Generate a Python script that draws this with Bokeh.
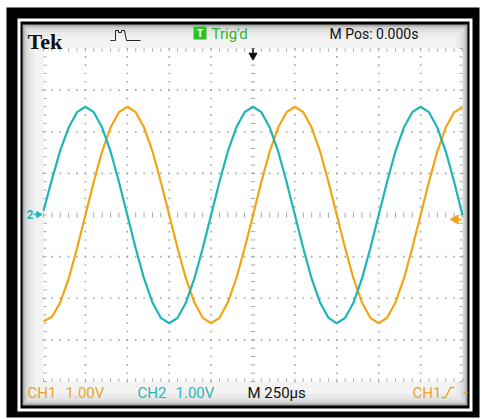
import numpy as np
from bokeh.plotting import figure
from bokeh.models import Range1d, Label
from bokeh.embed import file_html
from bokeh.resources import INLINE

# ---------------- data read from the scope screen ----------------
# 250 us/div, 10 divisions, M Pos 0.000 s (trigger at the centre); 1.00 V/div, 8 divisions
time_us = [-1250, -1200, -1150, -1100, -1050, -1000, -950, -900, -850, -800,
           -750, -700, -650, -600, -550, -500, -450, -400, -350, -300,
           -250, -200, -150, -100, -50, 0, 50, 100, 150, 200,
           250, 300, 350, 400, 450, 500, 550, 600, 650, 700,
           750, 800, 850, 900, 950, 1000, 1050, 1100, 1150, 1200, 1250]
ch1_volts = [-2.55, -2.45, -2.10, -1.53, -0.80, 0.00, 0.80, 1.53, 2.10, 2.47,
             2.60, 2.47, 2.10, 1.53, 0.80, 0.00, -0.80, -1.53, -2.10, -2.47,
             -2.60, -2.47, -2.10, -1.53, -0.80, 0.00, 0.80, 1.53, 2.10, 2.47,
             2.60, 2.47, 2.10, 1.53, 0.80, 0.00, -0.80, -1.53, -2.10, -2.47,
             -2.60, -2.47, -2.10, -1.53, -0.80, 0.00, 0.80, 1.53, 2.10, 2.47, 2.58]
ch2_volts = [0.10, 0.85, 1.55, 2.10, 2.47, 2.60, 2.47, 2.10, 1.53, 0.80,
             0.00, -0.80, -1.53, -2.10, -2.47, -2.60, -2.47, -2.10, -1.53, -0.80,
             0.00, 0.80, 1.53, 2.10, 2.47, 2.60, 2.47, 2.10, 1.53, 0.80,
             0.00, -0.80, -1.53, -2.10, -2.47, -2.60, -2.47, -2.10, -1.53, -0.80,
             0.00, 0.80, 1.53, 2.10, 2.47, 2.60, 2.47, 2.10, 1.53, 0.80, 0.00]

brand_text = "Tek"
trig_text = "Trig'd"
mpos_text = "M Pos: 0.000s"
ch1_name, ch1_scale = "CH1", "1.00V"
ch2_name, ch2_scale = "CH2", "1.00V"
time_text = "M 250\u00b5s"
trig_src_text = "CH1"

T_MIN, T_MAX = -1250, 1250
V_MIN, V_MAX = -4, 4
T_MAJOR = 250
T_MINOR = 50
V_MAJOR = 1
V_MINOR = 0.2

# ---------------- layout (pixels) ----------------
CANVAS_W, CANVAS_H = 480, 418
PAGE = 0
GRID_L, GRID_R, GRID_T, GRID_B = 43, 462, 48, 381   # page pixels of the graticule
kx = (T_MAX - T_MIN) / (GRID_R - GRID_L)
ky = (V_MAX - V_MIN) / (GRID_B - GRID_T)

def X(px):
    return T_MIN + (px - GRID_L) * kx

def Y(py):
    return V_MAX - (py - GRID_T) * ky

ORANGE = "#f2a414"
CYAN = "#1db5b8"
ORANGE_TXT = "#e8a52c"
CYAN_TXT = "#2eb5b8"
GREEN = "#2fb52f"
DOT = "#a6a6a6"

p = figure(width=CANVAS_W, height=CANVAS_H,
           x_range=Range1d(X(PAGE), X(PAGE + CANVAS_W)),
           y_range=Range1d(Y(PAGE + CANVAS_H), Y(PAGE)),
           x_axis_location=None, y_axis_location=None,
           toolbar_location=None, output_backend="svg",
           min_border=0, min_border_left=0, min_border_right=0,
           min_border_top=0, min_border_bottom=0)
p.grid.visible = False
p.outline_line_color = None
p.background_fill_color = "white"
p.border_fill_color = "white"

# bezel: black band, white line, black line, grey panel with darker edges, white graticule
boxes = [
    ((6, 7, 479, 417), "#000000"),
    ((17, 18, 472, 411), "#ffffff"),
    ((20, 21, 469, 408), "#000000"),
]
panel = (22, 24, 467, 405)
for inset, col in [(0, "#9a9a9a"), (1, "#b4b4b4"), (2, "#c8c8c8"), (3, "#d6d6d6"),
                   (5, "#e2e2e2"), (8, "#ebebeb"), (12, "#f3f3f3")]:
    l, t, r, b = panel
    boxes.append(((l + inset, t + inset, r - inset, b - inset), col))
p.quad(left=[X(b[0][0]) for b in boxes], right=[X(b[0][2]) for b in boxes],
       top=[Y(b[0][1]) for b in boxes], bottom=[Y(b[0][3]) for b in boxes],
       color=[b[1] for b in boxes], line_color=None)
p.quad(left=[T_MIN], right=[T_MAX], top=[V_MAX], bottom=[V_MIN],
       color="#ffffff", line_color=None)

# graticule dots
t_major_inner = np.arange(T_MIN + T_MAJOR, T_MAX, T_MAJOR)
v_major_inner = np.arange(V_MIN + V_MAJOR, V_MAX, V_MAJOR)
t_minor = np.linspace(T_MIN, T_MAX, int(round((T_MAX - T_MIN) / T_MINOR)) + 1)
v_minor = np.linspace(V_MIN, V_MAX, int(round((V_MAX - V_MIN) / V_MINOR)) + 1)
dx, dy = [], []
for t in t_major_inner:
    if abs(t) < 1e-9:
        continue
    for v in v_minor:
        dx.append(t); dy.append(v)
for v in v_major_inner:
    if abs(v) < 1e-9:
        continue
    for t in t_minor:
        dx.append(t); dy.append(v)
p.scatter(dx, dy, marker="square", size=1.6, color=DOT, line_color=None)

# centre-line ticks and edge ticks
tick_h = 2.5 * ky
tick_w = 2.2 * kx
edge_h = 3 * ky
edge_w = 3 * kx
sx0, sy0, sx1, sy1 = [], [], [], []
for t in t_minor:
    sx0 += [t, t, t]; sx1 += [t, t, t]
    sy0 += [-tick_h, V_MAX, V_MIN]; sy1 += [tick_h, V_MAX - edge_h, V_MIN + edge_h]
for v in v_minor:
    sy0 += [v, v, v]; sy1 += [v, v, v]
    sx0 += [-tick_w, T_MIN, T_MAX]; sx1 += [tick_w, T_MIN + edge_w, T_MAX - edge_w]
p.segment(sx0, sy0, sx1, sy1, line_color=DOT, line_width=1)

# traces
p.line(time_us, ch1_volts, line_color=ORANGE, line_width=2.2)
p.line(time_us, ch2_volts, line_color=CYAN, line_width=2.2)

# trigger position arrow (top centre)
p.segment([0], [V_MAX], [0], [Y(53)], line_color="#111111", line_width=1.5)
p.scatter([0], [Y(55)], marker="inverted_triangle", size=8, color="#111111")

# CH2 ground marker (left) and trigger level marker (right)
p.add_layout(Label(x=X(26), y=Y(214), text="2", text_color=CYAN_TXT,
                   text_font="Roboto", text_font_style="bold",
                   text_font_size="12px", text_baseline="middle"))
p.segment([X(33)], [Y(214)], [X(37)], [Y(214)], line_color=CYAN, line_width=1.5)
p.scatter([X(38)], [Y(214)], marker="triangle", angle=-np.pi / 2, size=6, color=CYAN)
p.segment([X(455)], [Y(219)], [X(461)], [Y(219)], line_color=ORANGE, line_width=2)
p.scatter([X(455)], [Y(219)], marker="triangle", angle=np.pi / 2, size=9, color=ORANGE)

# top status line
p.add_layout(Label(x=X(27), y=Y(41), text=brand_text, text_color="#111111",
                   text_font="Liberation Serif", text_font_style="bold",
                   text_font_size="22px", text_baseline="alphabetic"))
p.line([X(110), X(113), X(115), X(115), X(118), X(118), X(121), X(121), X(124), X(126), X(140)],
       [Y(40), Y(40), Y(40), Y(30), Y(30), Y(32), Y(32), Y(30), Y(30), Y(40), Y(40)],
       line_color="#222222", line_width=1)
p.quad(left=[X(193)], right=[X(206)], top=[Y(26)], bottom=[Y(39)],
       color="#28c428", line_color=None)
p.add_layout(Label(x=X(199.5), y=Y(33), text="T", text_color="white",
                   text_font="Roboto", text_font_style="bold", text_font_size="10px",
                   text_align="center", text_baseline="middle"))
p.add_layout(Label(x=X(211), y=Y(33), text=trig_text, text_color=GREEN,
                   text_font="Roboto", text_font_size="15px", text_baseline="middle"))
p.add_layout(Label(x=X(329), y=Y(33), text=mpos_text, text_color="#111111",
                   text_font="Roboto", text_font_size="14px", text_baseline="middle"))

# bottom status line
for txt, xpx, col in [(ch1_name, 27, ORANGE_TXT), (ch1_scale, 65, ORANGE_TXT),
                      (ch2_name, 137, CYAN_TXT), (ch2_scale, 175, CYAN_TXT),
                      (time_text, 247, "#111111"), (trig_src_text, 412, ORANGE_TXT)]:
    p.add_layout(Label(x=X(xpx), y=Y(392), text=txt, text_color=col,
                       text_font="Roboto", text_font_size="15px", text_baseline="middle"))
p.line([X(441), X(445), X(450), X(454)], [Y(397), Y(397), Y(387), Y(387)],
       line_color=ORANGE_TXT, line_width=1.5)
p.segment([X(463)], [Y(392)], [X(467)], [Y(392)], line_color=ORANGE_TXT, line_width=1.5)

open("out.html", "w").write(file_html(p, INLINE))
